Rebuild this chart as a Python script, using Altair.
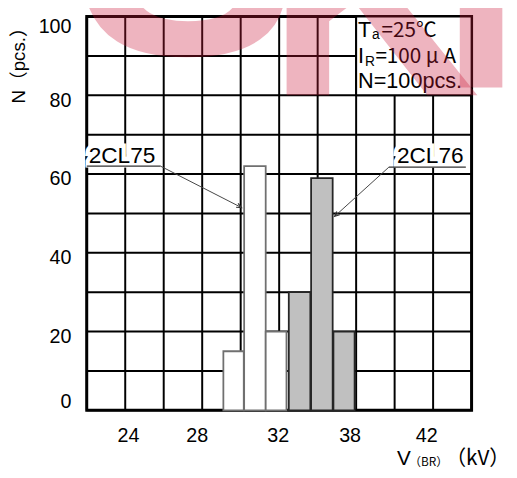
import math
import altair as alt
import pandas as pd

# ---------------- data ----------------
series = ["2CL75", "2CL75", "2CL75", "2CL76", "2CL76", "2CL76"]
counts = [15, 62, 20, 30, 59, 20]
# bar edges, in grid-column units (the grid has 10 columns)
bin_start = [3.55, 4.09, 4.65, 5.25, 5.83, 6.41]
bin_end = [4.08, 4.65, 5.19, 5.81, 6.39, 6.96]

x_tick_pos = [1.07, 2.86, 4.96, 6.83, 8.82]
x_tick_text = ["24", "28", "32", "38", "42"]
y_tick_values = [0, 20, 40, 60, 80, 100]
grid_cols = list(range(0, 11))
grid_rows = list(range(0, 101, 10))

series_label = ["2CL75", "2CL76"]
series_label_x = [0.05, 8.06]
series_label_y = [62.75, 62.75]
underline_x1 = [0.0, 7.85]
underline_x2 = [1.92, 9.85]
underline_y = [62.0, 61.75]
arrow_x2 = [4.02, 6.44]
arrow_y2 = [51.5, 49.25]

box_x = [7, 10]
box_y = [80, 100]
cond_main_text = ["T", "I", "N=100pcs."]
cond_main_x = [7.05, 7.05, 7.05]
cond_main_y = [94.75, 88.25, 81.75]
cond_cjk_text = ["=25℃", "=100 μ A"]
cond_cjk_x = [7.66, 7.5]
cond_cjk_y = [94.75, 88.25]
cond_sub_text = ["a", "R"]
cond_sub_x = [7.41, 7.23]
cond_sub_y = [94.25, 87.5]

y_title = ["N（pcs.）"]
xtitle_main_text = ["V", "（kV）"]
xtitle_main_x = [8.06, 9.32]
xtitle_main_y = [-14.0, -14.0]
xtitle_sub_text = ["\u00a0（BR）"]
xtitle_sub_x = [8.38]
xtitle_sub_y = [-14.25]

watermark_s_text = ["S"]
watermark_s_x = [-0.3]
watermark_s_y = [90.5]
watermark_k_text = ["K", "I"]
watermark_k_x = [4.68, 9.18]
watermark_k_y = [80.0, 82.0]

# ---------------- chart ----------------
W, H = 391, 400
FONT = "Liberation Sans, Arial"
CJK = "Noto Sans CJK SC"
PX_X = W / 10.0
PX_Y = H / 100.0

xs = alt.Scale(domain=[0, 10], nice=False, zero=False)
ys = alt.Scale(domain=[0, 100], nice=False, zero=False)

label_expr = ("[" + ",".join("'%s'" % t for t in x_tick_text) + "][indexof(["
              + ",".join(str(p) for p in x_tick_pos) + "], datum.value)]")

x_axis = alt.Axis(values=x_tick_pos, labelExpr=label_expr, grid=False, ticks=False,
                  tickSize=0, domain=False, labelFontSize=20, labelFont=FONT,
                  labelColor="black", labelPadding=16, labelBaseline="top",
                  title=None)
y_axis = alt.Axis(values=y_tick_values, grid=False, ticks=False, tickSize=0,
                  domain=False, labelFontSize=20, labelFont=FONT, labelColor="black",
                  labelPadding=16, labelBaseline="middle",
                  labelOffset={"condition": [{"test": "datum.value == 0", "value": -9},
                                             {"test": "datum.value == 100", "value": 10}],
                               "value": 5},
                  title=None)


def X(f):
    return alt.X(f, type="quantitative", scale=xs, axis=x_axis)


def Y(f):
    return alt.Y(f, type="quantitative", scale=ys, axis=y_axis)


def texts(txt, xv, yv, font, size, color="black", **kw):
    df = pd.DataFrame({"t": txt, "x": xv, "y": yv})
    return alt.Chart(df).mark_text(font=font, fontSize=size, align="left",
                                   baseline="alphabetic", color=color, **kw).encode(
        x=X("x"), y=Y("y"), text="t")


df_cols = pd.DataFrame({"c": grid_cols, "lo": 0, "hi": 100})
df_rows = pd.DataFrame({"r": grid_rows, "lo": 0, "hi": 10})

vgrid = alt.Chart(df_cols).mark_rule(color="black", strokeWidth=2).encode(
    x=X("c"), y=Y("lo"), y2="hi")
hgrid = alt.Chart(df_rows).mark_rule(color="black", strokeWidth=2).encode(
    y=Y("r"), x=X("lo"), x2="hi")

df_box = pd.DataFrame({"x1": [box_x[0]], "x2": [box_x[1]], "y1": [box_y[0]], "y2": [box_y[1]]})
box = alt.Chart(df_box).mark_rect(fill="white", stroke="black", strokeWidth=2).encode(
    x=X("x1"), x2="x2", y=Y("y1"), y2="y2")

df_bars = pd.DataFrame({"series": series, "count": counts, "x1": bin_start,
                        "x2": bin_end, "zero": 0})
bars = alt.Chart(df_bars).mark_rect(strokeWidth=1.8).encode(
    x=X("x1"), x2="x2", y=Y("zero"), y2="count",
    fill=alt.Fill("series:N", scale=alt.Scale(domain=["2CL75", "2CL76"],
                                               range=["white", "#c0c0c0"]), legend=None),
    stroke=alt.Stroke("series:N", scale=alt.Scale(domain=["2CL75", "2CL76"],
                                                   range=["#707070", "#262626"]), legend=None),
)

lab_halo = texts(series_label, series_label_x, series_label_y, FONT, 23, color="white",
                 stroke="white", strokeWidth=9)
lab = texts(series_label, series_label_x, series_label_y, FONT, 23)

df_ul = pd.DataFrame({"x1": underline_x1, "x2": underline_x2, "y": underline_y})
underline = alt.Chart(df_ul).mark_rule(color="#333333", strokeWidth=1.2).encode(
    x=X("x1"), x2="x2", y=Y("y"))

arrow_x1 = [underline_x2[0], underline_x1[1]]
arrow_y1 = underline_y
angles = [math.degrees(math.atan2(-(y2 - y1) * PX_Y, (x2 - x1) * PX_X))
          for x1, y1, x2, y2 in zip(arrow_x1, arrow_y1, arrow_x2, arrow_y2)]
df_arr = pd.DataFrame({"x1": arrow_x1, "y1": arrow_y1, "x2": arrow_x2, "y2": arrow_y2,
                       "ang": angles})
arrow_line = alt.Chart(df_arr).mark_rule(color="#444444", strokeWidth=1).encode(
    x=X("x1"), y=Y("y1"), x2="x2", y2="y2")
arrow_head = alt.Chart(df_arr).mark_point(
    shape="M-2,-0.9L0,0L-2,0.9", filled=False, stroke="#333333", strokeWidth=1.2,
    size=25, opacity=1).encode(
    x=X("x2"), y=Y("y2"), angle=alt.Angle("ang:Q", scale=None))

cond_main = texts(cond_main_text, cond_main_x, cond_main_y, FONT, 22)
cond_cjk = texts(cond_cjk_text, cond_cjk_x, cond_cjk_y, CJK, 21)
cond_sub = texts(cond_sub_text, cond_sub_x, cond_sub_y, FONT, 14)

xt_v = texts(xtitle_main_text[:1], xtitle_main_x[:1], xtitle_main_y[:1], FONT, 21)
xt_main = texts(xtitle_main_text[1:], xtitle_main_x[1:], xtitle_main_y[1:], CJK, 21)
xt_sub = texts(xtitle_sub_text, xtitle_sub_x, xtitle_sub_y, CJK, 12)

df_yt = pd.DataFrame({"t": y_title})
yt = alt.Chart(df_yt).mark_text(font="Liberation Sans, Noto Sans CJK SC", fontSize=19,
                                angle=270, align="center", baseline="middle",
                                color="black").encode(
    x=alt.value(-69), y=alt.value(45), text="t")

wm_s = texts(watermark_s_text, watermark_s_x, watermark_s_y, "Liberation Sans", 340,
             color="#cc1a3a", fontWeight="bold", opacity=0.32)
wm_k = texts(watermark_k_text, watermark_k_x, watermark_k_y, "Liberation Sans", 300,
             color="#cc1a3a", fontWeight="bold", opacity=0.32)

chart = alt.layer(
    vgrid, hgrid, box, bars, lab_halo, lab, underline, arrow_line, arrow_head,
    cond_main, cond_cjk, cond_sub, xt_v, xt_main, xt_sub, yt, wm_s, wm_k
).properties(
    width=W, height=H, autosize="none",
    padding={"left": 80, "top": 5, "right": 38, "bottom": 62},
    background="white",
).configure_view(stroke="black", strokeWidth=3)

chart.save("out.html", embed_options={"renderer": "svg", "actions": False})
